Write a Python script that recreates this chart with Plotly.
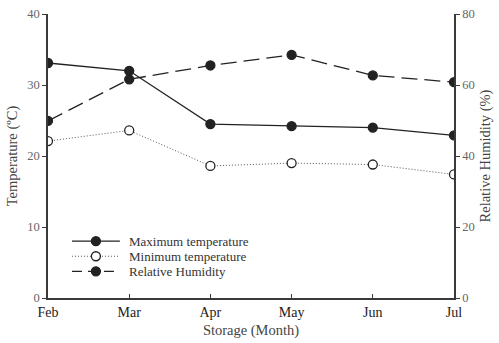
import plotly.graph_objects as go

months = ["Feb", "Mar", "Apr", "May", "Jun", "Jul"]
max_temp = [33.1, 32.0, 24.5, 24.2, 24.0, 22.9]
min_temp = [22.1, 23.6, 18.6, 19.0, 18.8, 17.4]
rel_hum = [49.9, 61.6, 65.5, 68.5, 62.7, 60.8]
legend_names = ["Maximum temperature", "Minimum temperature", "Relative Humidity"]

xpos = list(range(len(months)))
FONT = "Liberation Serif, Times New Roman, serif"
AX = "#3a3a3a"

styles = [
    dict(line=dict(color="#222", width=1.3, dash="solid"), fill="#222"),
    dict(line=dict(color="#555", width=1, dash="1px,2px"), fill="white"),
    dict(line=dict(color="#222", width=1.3, dash="16px,7px"), fill="#222"),
]

fig = go.Figure()
series = [(max_temp, "y"), (min_temp, "y"), (rel_hum, "y2")]
for (vals, ax), name, st in zip(series, legend_names, styles):
    fig.add_trace(go.Scatter(x=xpos, y=vals, name=name, mode="lines+markers", yaxis=ax,
                             line=st["line"], showlegend=False,
                             marker=dict(size=9, color=st["fill"], line=dict(color="#222", width=1.3))))

# manual compact legend
ly = [0.200, 0.147, 0.094]
leg_dash = ["solid", "1px,2px", "10px,6px"]
for yy, name, st, dsh in zip(ly, legend_names, styles, leg_dash):
    fig.add_shape(type="line", xref="paper", yref="paper", x0=0.059, x1=0.177, y0=yy, y1=yy,
                  line=dict(color=st["line"]["color"], width=st["line"]["width"], dash=dsh))
    fig.add_shape(type="circle", xref="paper", yref="paper", xsizemode="pixel", ysizemode="pixel",
                  xanchor=0.118, yanchor=yy, x0=-4.5, x1=4.5, y0=-4.5, y1=4.5,
                  fillcolor=st["fill"], line=dict(color="#222", width=1.3))
    fig.add_annotation(text=name, xref="paper", yref="paper", x=0.197, y=yy,
                       xanchor="left", yanchor="middle", showarrow=False, borderpad=0,
                       font=dict(size=13, color="#333", family=FONT))

fig.update_layout(
    width=499, height=343,
    margin=dict(l=48, r=45, t=7, b=44),
    paper_bgcolor="white", plot_bgcolor="white",
    font=dict(family=FONT, size=13, color="#333"),
    showlegend=False,
    xaxis=dict(range=[0, 5], tickvals=xpos, ticktext=months,
               showline=True, linecolor=AX, linewidth=1.5,
               ticks="inside", ticklen=4, tickcolor=AX,
               showgrid=False, zeroline=False,
               tickfont=dict(size=14, color="#222"),
               title=dict(text="Storage (Month)", font=dict(size=14.5, color="#444"), standoff=6)),
    yaxis=dict(range=[0, 40], tickvals=[0, 10, 20, 30, 40],
               showline=True, linecolor=AX, linewidth=1.5,
               ticks="outside", ticklen=4, tickcolor=AX,
               showgrid=False, zeroline=False,
               tickfont=dict(size=12.5, color="#666"),
               title=dict(text="Temperature (ºC)", font=dict(size=14.5, color="#444"), standoff=6)),
    yaxis2=dict(range=[0, 80], tickvals=[0, 20, 40, 60, 80], overlaying="y", side="right",
                showline=True, linecolor=AX, linewidth=1.5,
                ticks="outside", ticklen=4, tickcolor=AX,
                showgrid=False, zeroline=False,
                tickfont=dict(size=12.5, color="#666"),
                title=dict(text="Relative Humidity (%)", font=dict(size=14.5, color="#444"), standoff=6)),
)

fig.write_html("out.html")
